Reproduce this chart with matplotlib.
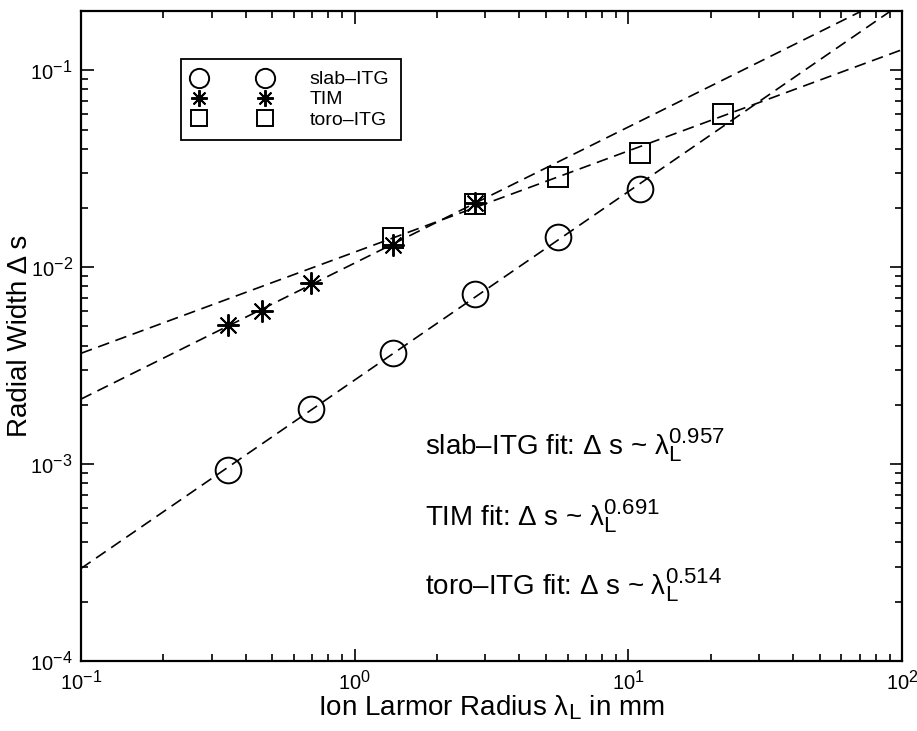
import numpy as np
import matplotlib
matplotlib.use("Agg")
import matplotlib.pyplot as plt
import matplotlib._mathtext as _mathtext
from matplotlib.ticker import LogLocator, LogFormatterSciNotation, NullFormatter

plt.rcParams['font.family'] = ['Liberation Sans', 'DejaVu Sans']
plt.rcParams['mathtext.fontset'] = 'custom'
plt.rcParams['mathtext.rm'] = 'Liberation Sans'
plt.rcParams['mathtext.it'] = 'Liberation Sans'
plt.rcParams['mathtext.default'] = 'regular'
# slightly larger sub/superscripts
_mathtext.SHRINK_FACTOR = 0.8

# Ion Larmor radius (mm) and measured radial widths for each mode
lam_slab = [0.345, 0.69, 1.38, 2.76, 5.52, 11.04]
ds_slab = [9.3e-4, 1.91e-3, 3.68e-3, 7.28e-3, 1.42e-2, 2.50e-2]

lam_tim = [0.345, 0.46, 0.69, 1.38, 2.76]
ds_tim = [5.1e-3, 6.0e-3, 8.3e-3, 1.29e-2, 2.12e-2]

lam_toro = [1.38, 2.76, 5.52, 11.04, 22.08]
ds_toro = [1.41e-2, 2.10e-2, 2.88e-2, 3.82e-2, 5.97e-2]

mode_names = ['slab\u2013ITG', 'TIM', 'toro\u2013ITG']
fit_exponents = [0.957, 0.691, 0.514]

xlim = (0.1, 100)
ylim = (1e-4, 0.2)

fig = plt.figure(figsize=(9.17, 7.31), dpi=100)
ax = fig.add_axes([0.0883, 0.0958, 0.8954, 0.8892])
ax.set_xscale('log')
ax.set_yscale('log')
ax.set_xlim(*xlim)
ax.set_ylim(*ylim)

series = [(lam_slab, ds_slab, 'o', 18.5),
          (lam_tim, ds_tim, (8, 2, 0), 16),
          (lam_toro, ds_toro, 's', 15)]

dash = (0, (7, 4))
handles = []
for (lam, ds, mk, ms), name, p in zip(series, mode_names, fit_exponents):
    lam = np.asarray(lam)
    ds = np.asarray(ds)
    # power-law fit with the quoted exponent; prefactor from the data
    logc = np.mean(np.log(ds) - p * np.log(lam))
    xf = np.array(xlim)
    ax.plot(xf, np.exp(logc) * xf ** p, color='k', lw=1.2, ls=dash, zorder=2)
    h, = ax.plot(lam, ds, ls='none', marker=mk, ms=ms, mfc='none',
                 mec='k', mew=1.4, label=name, zorder=3)
    handles.append(h)

leg = ax.legend(handles=handles, loc='upper left',
                bbox_to_anchor=(0.122, 0.926), borderaxespad=0,
                numpoints=2, markerscale=0.75, fontsize=14,
                handlelength=4.0, handletextpad=2.0, labelspacing=0.13,
                borderpad=0.6, fancybox=False, framealpha=1,
                edgecolor='k')
leg.get_frame().set_linewidth(1.3)

# fit annotations
ann_y = [0.317, 0.209, 0.1015]
for name, p, y in zip(mode_names, fit_exponents, ann_y):
    ax.text(0.419, y, name + ' fit: \u0394 s ~ $\\lambda_L^{%.3f}$' % p,
            transform=ax.transAxes, fontsize=20, va='baseline', ha='left')

ax.set_xlabel('Ion Larmor Radius $\\lambda_L$ in mm', fontsize=20, labelpad=0)
ax.set_ylabel('Radial Width \u0394 s', fontsize=20)
ax.yaxis.set_label_coords(-0.058, 0.5)

for a in (ax.xaxis, ax.yaxis):
    a.set_major_locator(LogLocator(base=10, numticks=10))
    a.set_minor_locator(LogLocator(base=10, subs=np.arange(2, 10), numticks=10))
    a.set_major_formatter(LogFormatterSciNotation())
    a.set_minor_formatter(NullFormatter())

ax.tick_params(which='both', direction='in', top=True, right=True,
               width=1.2, labelsize=14.5)
ax.tick_params(which='major', length=9)
ax.tick_params(which='minor', length=5)
ax.tick_params(axis='x', pad=6)
ax.tick_params(axis='y', pad=6)
for s in ax.spines.values():
    s.set_linewidth(1.6)

fig.savefig('out.png', dpi=100)
